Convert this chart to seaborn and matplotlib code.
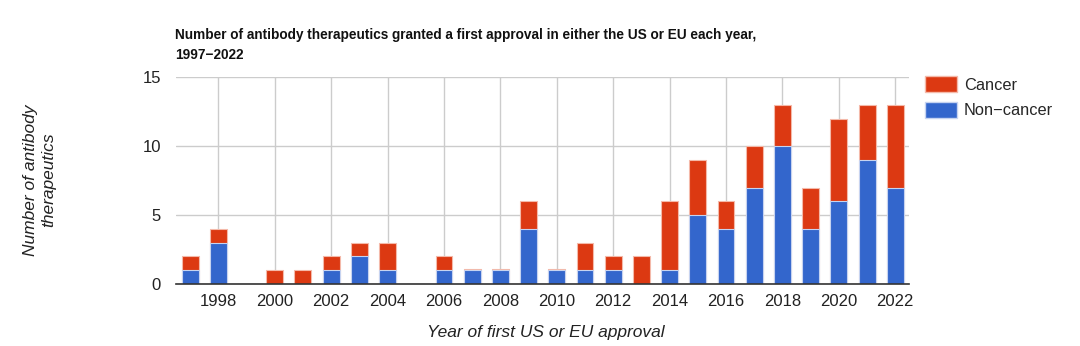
import matplotlib
matplotlib.use("Agg")
import matplotlib.pyplot as plt
import matplotlib.patches as mpatches
import seaborn as sns
import numpy as np

years = list(range(1997, 2023))
non_cancer = [1, 3, 0, 0, 0, 1, 2, 1, 0, 1, 1, 1, 4, 1, 1, 1, 0, 1, 5, 4, 7, 10, 4, 6, 9, 7]
cancer = [1, 1, 0, 1, 1, 1, 1, 2, 0, 1, 0.1, 0.1, 2, 0.1, 2, 1, 2, 5, 4, 2, 3, 3, 3, 6, 4, 6]
tick_years = list(range(1998, 2023, 2))
y_ticks = [0, 5, 10, 15]

RED = "#DC3912"
BLUE = "#3366CC"

sns.set_theme(style="white")
plt.rcParams["font.family"] = ["Liberation Sans", "DejaVu Sans"]

fig = plt.figure(figsize=(10.8, 3.46), dpi=100)
ax = fig.add_axes([0.163, 0.179, 0.679, 0.598])

total = [a + b for a, b in zip(non_cancer, cancer)]
labels = [str(y) for y in years]

sns.barplot(x=labels, y=total, color=RED, width=0.6, edgecolor="#f4b9a9",
            linewidth=0.8, saturation=1, ax=ax, order=labels)
sns.barplot(x=labels, y=non_cancer, color=BLUE, width=0.6, edgecolor="#c6d3f0",
            linewidth=0.8, saturation=1, ax=ax, order=labels)

ax.set_xlim(-0.5, len(years) - 0.5)
ax.set_ylim(0, 15)
ax.set_yticks(y_ticks)
ax.set_yticklabels([str(t) for t in y_ticks], fontsize=12, color="#222222")
tick_pos = [years.index(y) for y in tick_years]
ax.set_xticks(tick_pos)
ax.set_xticklabels([str(y) for y in tick_years], fontsize=12, color="#222222")
ax.tick_params(axis="x", length=0, pad=7)
ax.tick_params(axis="y", length=0, pad=11)

ax.set_axisbelow(True)
ax.grid(True, axis="both", color="#cccccc", linewidth=1)
for s in ["top", "right", "left"]:
    ax.spines[s].set_visible(False)
ax.spines["bottom"].set_color("#333333")
ax.spines["bottom"].set_linewidth(1.2)
ax.set_xlabel("")
ax.set_ylabel("")

handles = [mpatches.Patch(facecolor=RED, edgecolor="#f4b9a9", label="Cancer"),
           mpatches.Patch(facecolor=BLUE, edgecolor="#c6d3f0", label="Non\u2212cancer")]
ax.legend(handles=handles, loc="upper left", bbox_to_anchor=(1.012, 1.035),
          frameon=False, fontsize=11.8, handlelength=2.0, handleheight=1.1,
          handletextpad=0.4, labelspacing=0.55, borderaxespad=0)

fig.text(0.162, 0.918, "Number of antibody therapeutics granted a first approval in either the US or EU each year,\n1997\u22122022",
         fontsize=9.8, fontweight="bold", ha="left", va="top", color="#111111", linespacing=1.5)
fig.text(0.037, 0.48, "Number of antibody\ntherapeutics", rotation=90, fontsize=12.5, style="italic",
         ha="center", va="center", color="#222222", linespacing=1.25)
fig.text(0.505, 0.038, "Year of first US or EU approval", fontsize=12.5, style="italic",
         ha="center", va="center", color="#222222")

fig.savefig("out.png", dpi=100)
